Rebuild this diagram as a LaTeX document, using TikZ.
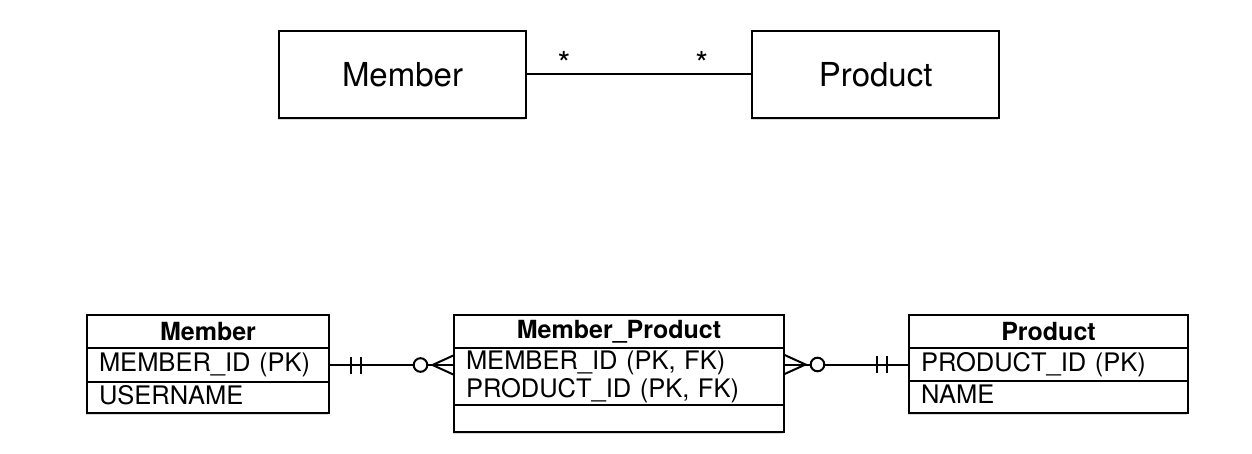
\documentclass[tikz,border=0pt]{standalone}
\usepackage{fontspec}
\setmainfont{TeX Gyre Heros}
\usepackage{tikz}
\usetikzlibrary{positioning, shadows}
\tikzset{
  boxshadow/.style={drop shadow={shadow xshift=-0.6pt, shadow yshift=-0.9pt, opacity=0.3}},
  classbox/.style={rectangle, draw=black, line width=1.1pt, fill=white, boxshadow,
    minimum width=123.5pt, minimum height=43.5pt, font=\fontsize{16.5}{18}\selectfont},
  cell/.style={rectangle, draw=black, line width=1pt, fill=white, outer sep=0pt, boxshadow},
  ehead/.style={cell, minimum height=16.5pt, inner ysep=1pt, align=center,
    font=\bfseries\fontsize{12.5}{14}\selectfont},
  efield/.style={cell, inner xsep=6pt, inner ysep=1pt, align=left,
    text height=9.4pt, text depth=2.6pt, font=\fontsize{12.75}{14}\selectfont},
  ekeys/.style={cell, inner xsep=6pt, inner ysep=1pt, align=left,
    font=\fontsize{12.75}{14}\selectfont},
  multi/.style={font=\fontsize{16.5}{18}\selectfont, inner sep=0pt},
  rel/.style={line width=1pt},
  onlyone/.pic={
    \draw[rel] (11pt,-4.25pt) -- (11pt,4.25pt) (16pt,-4.25pt) -- (16pt,4.25pt);
  },
  zeromany/.pic={
    \draw[rel] (0pt,4.9pt) -- (10.75pt,0pt) -- (0pt,-4.9pt);
    \draw[rel, fill=white] (16.75pt,0pt) circle[radius=3.4pt];
  }
}

\begin{document}
\begin{tikzpicture}[x=0.5pt, y=-0.5pt]
  \useasboundingbox (0,0) rectangle (1252,454);

  % object model
  \node[classbox] (umember) at (402.5,74.5) {Member};
  \node[classbox, right=112pt of umember] (uproduct) {Product};
  \draw[rel] (umember) -- (uproduct)
    node[multi, pos=0.165, yshift=5.5pt] (manyleft) {*}
    node[multi, pos=0.78, yshift=5.5pt] (manyright) {*};

  % tables
  \node[ehead, minimum width=121pt, anchor=north west] (member) at (87,315) {Member};
  \node[efield, text width=109pt, minimum height=17pt, below=0pt of member] (memberid) {MEMBER\_ID (PK)};
  \node[efield, text width=109pt, minimum height=15.5pt, below=0pt of memberid] (username) {USERNAME};

  \node[ehead, minimum width=165pt, right=62.5pt of member] (mp) {Member\_Product};
  \node[ekeys, text width=153pt, minimum height=28.5pt, below=0pt of mp] (mpkeys) {MEMBER\_ID (PK, FK)\\PRODUCT\_ID (PK, FK)};
  \node[cell, minimum width=165pt, minimum height=13.5pt, below=0pt of mpkeys] (mpempty) {};

  \node[ehead, minimum width=139.5pt, right=62.5pt of mp] (product) {Product};
  \node[efield, text width=127.5pt, minimum height=16.5pt, below=0pt of product] (productid) {PRODUCT\_ID (PK)};
  \node[efield, text width=127.5pt, minimum height=16pt, below=0pt of productid] (name) {NAME};

  % relations
  \coordinate (mpleft) at (memberid.east -| mpkeys.west);
  \coordinate (mpright) at (productid.west -| mpkeys.east);
  \draw[rel] (memberid.east) -- (mpleft);
  \draw[rel] (mpright) -- (productid.west);
  \pic at (memberid.east) {onlyone};
  \pic[rotate=180] at (mpleft) {zeromany};
  \pic at (mpright) {zeromany};
  \pic[rotate=180] at (productid.west) {onlyone};
\end{tikzpicture}
\end{document}
